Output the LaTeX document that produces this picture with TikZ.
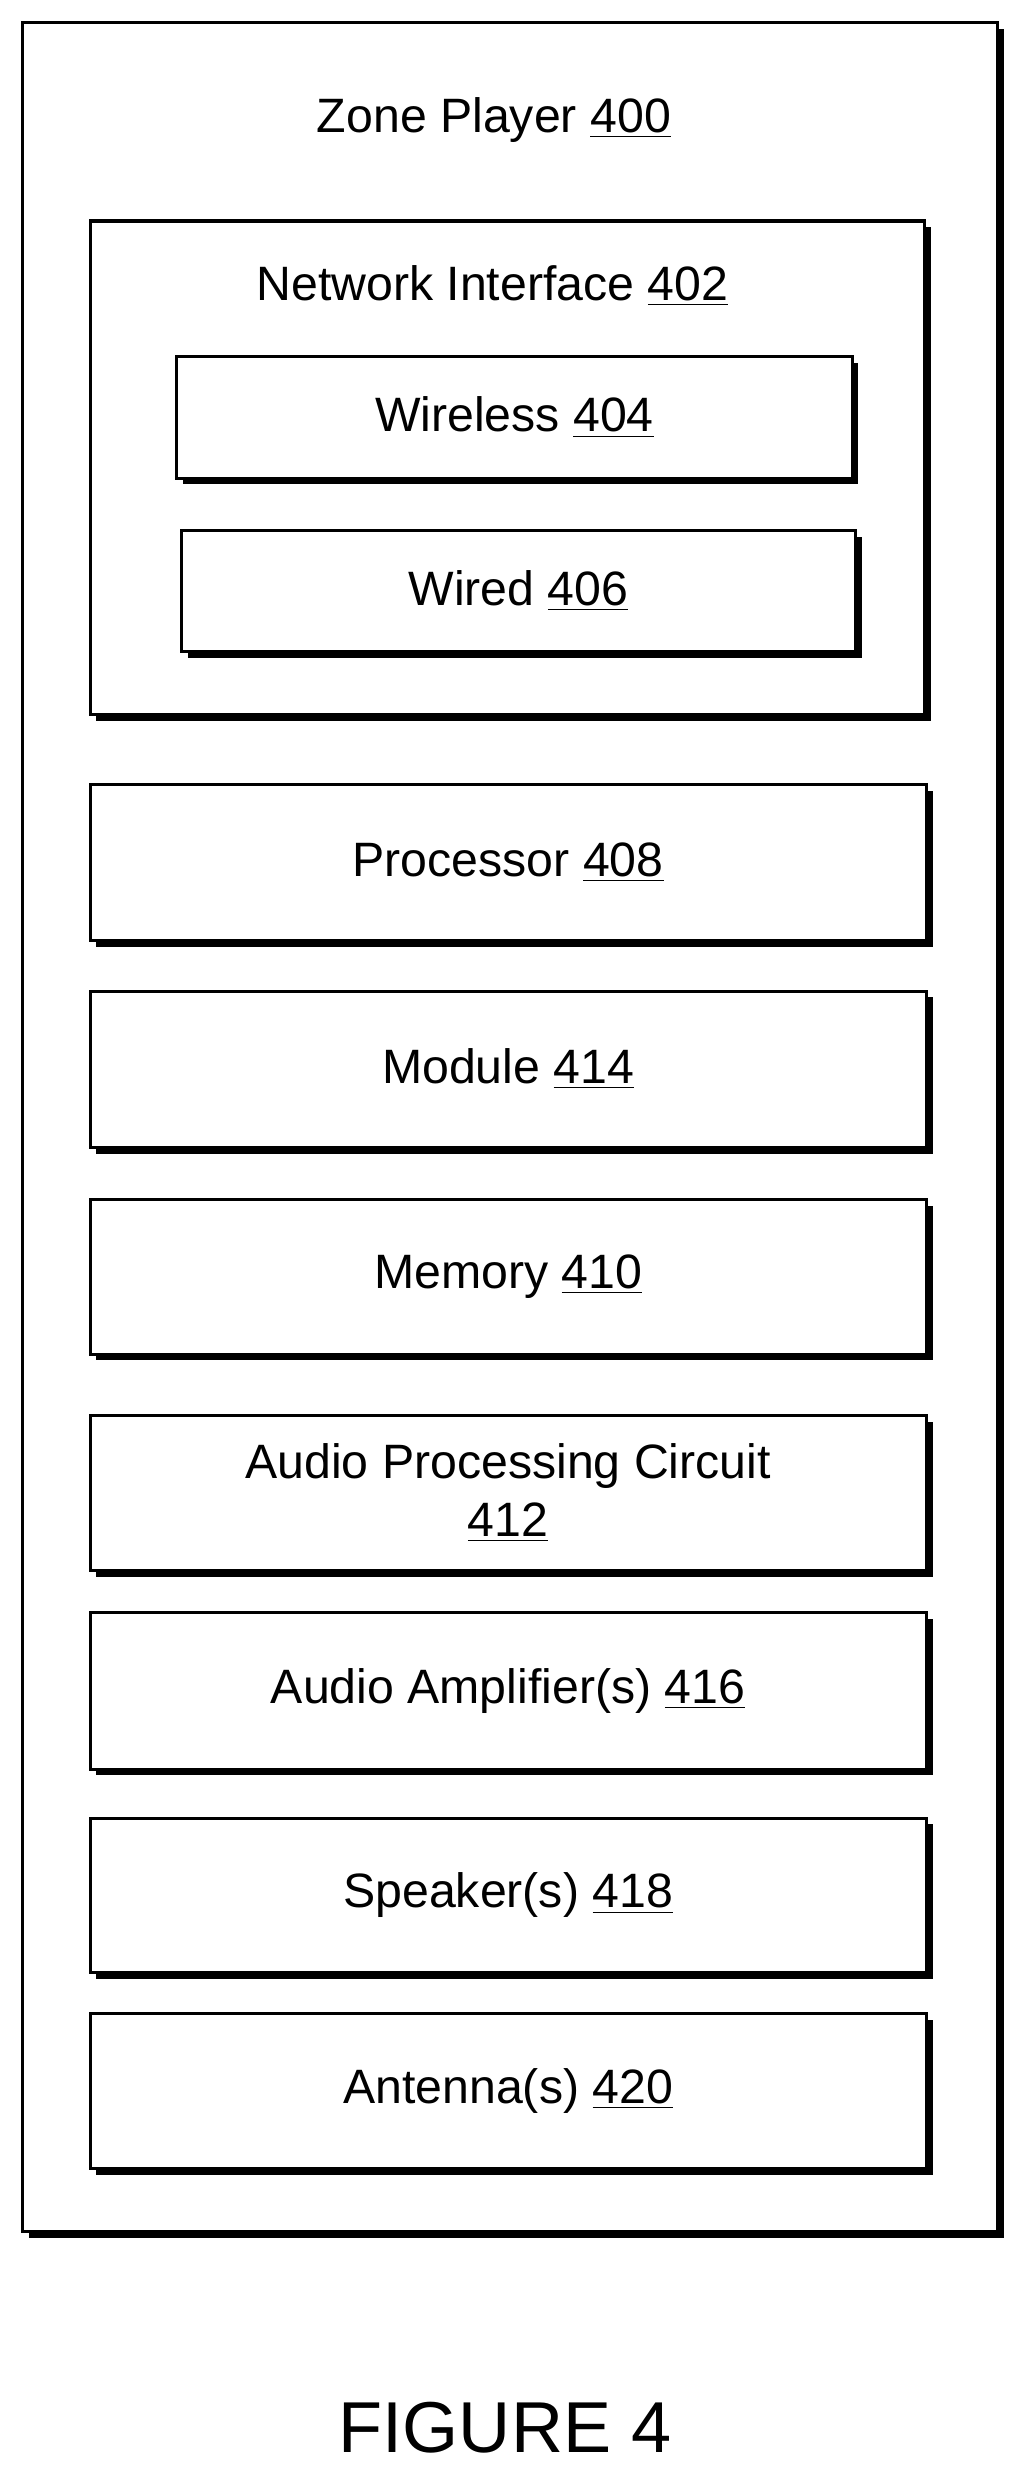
\documentclass[tikz,border=0pt]{standalone}
\usepackage{fontspec}
\setmainfont{Liberation Sans}
\usetikzlibrary{shadows}
\newcommand{\refn}[1]{\underline{#1}}

\begin{document}
\begin{tikzpicture}[x=0.02cm, y=-0.02cm,
  box/.style={draw, line width=1.1pt, fill=white, inner sep=0pt,
    general shadow={fill=black, shadow xshift=0.08cm, shadow yshift=-0.08cm},
    font=\fontsize{17.4}{21}\selectfont, align=center},
  lbl/.style={font=\fontsize{17.4}{21}\selectfont}]

\useasboundingbox (0,0) rectangle (650,1574);

% outer box
\node [box, minimum width=12.36cm, minimum height=28cm] (zone) at (323,714) {};
\node [lbl] (zonelbl) at (313,76) {Zone Player \refn{400}};

% network interface
\node [box, minimum width=10.58cm, minimum height=6.26cm] (net) at (321.5,296.5) {};
\node [lbl] (netlbl) at (312,181) {Network Interface \refn{402}};
\node [box, minimum width=8.56cm, minimum height=1.54cm] (wireless) at (326,264.5) {Wireless \refn{404}};
\node [box, minimum width=8.54cm, minimum height=1.54cm] (wired) at (328.5,374.5) {Wired \refn{406}};

% blocks
\node [box, minimum width=10.6cm, minimum height=1.98cm] (proc) at (322,546.5) {Processor \refn{408}};
\node [box, minimum width=10.6cm, minimum height=1.98cm] (module) at (322,677.5) {Module \refn{414}};
\node [box, minimum width=10.6cm, minimum height=1.96cm] (memory) at (322,809) {Memory \refn{410}};
\node [box, minimum width=10.6cm, minimum height=1.96cm] (audio) at (322,946) {Audio Processing Circuit\\\refn{412}};
\node [box, minimum width=10.6cm, minimum height=1.98cm] (amp) at (322,1071.5) {Audio Amplifier(s) \refn{416}};
\node [box, minimum width=10.6cm, minimum height=1.96cm] (speaker) at (322,1201) {Speaker(s) \refn{418}};
\node [box, minimum width=10.6cm, minimum height=1.96cm] (antenna) at (322,1325) {Antenna(s) \refn{420}};

\node [font=\fontsize{26}{30}\selectfont] (fig) at (320,1538) {FIGURE 4};
\end{tikzpicture}
\end{document}
